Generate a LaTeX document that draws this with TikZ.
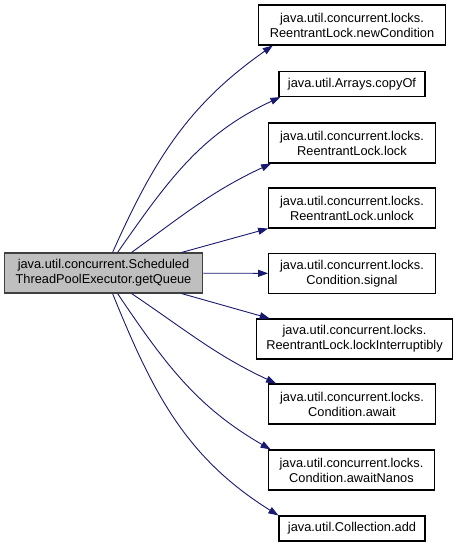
\documentclass[tikz,border=0pt]{standalone}
\usepackage{fontspec}
\setmainfont{Liberation Sans}
\usetikzlibrary{arrows.meta}
\definecolor{edgeblue}{RGB}{25,25,112}
\definecolor{mainfill}{RGB}{191,191,191}

\begin{document}
\begin{tikzpicture}[x=1pt,y=1pt,->,>={Stealth[length=10pt,width=7pt,inset=0pt]},
    fn node/.style={rectangle,draw=black,fill=white,line width=1.1pt,align=center,
        font=\fontsize{12.8}{15}\selectfont,inner xsep=11.5pt,inner ysep=3pt,minimum height=40pt},
    one line/.style={minimum height=25pt,inner xsep=9pt},
    call/.style={draw=edgeblue,line width=0.9pt}]

    \useasboundingbox (0,0) rectangle (459,547);

    \node[fn node, fill=mainfill, draw=black!75] (main) at (103.5,274) {java.util.concurrent.Scheduled\\ThreadPoolExecutor.getQueue};

    \node[fn node] (newcond) at (352,522) {java.util.concurrent.locks.\\ReentrantLock.newCondition};
    \node[fn node, one line] (copyof) at (352,463) {java.util.Arrays.copyOf};
    \node[fn node] (lock) at (352,404) {java.util.concurrent.locks.\\ReentrantLock.lock};
    \node[fn node] (unlock) at (352,339) {java.util.concurrent.locks.\\ReentrantLock.unlock};
    \node[fn node] (signal) at (352,273.5) {java.util.concurrent.locks.\\Condition.signal};
    \node[fn node, inner xsep=10pt] (lockint) at (354.5,208) {java.util.concurrent.locks.\\ReentrantLock.lockInterruptibly};
    \node[fn node] (await) at (352,143) {java.util.concurrent.locks.\\Condition.await};
    \node[fn node] (awaitnanos) at (351.5,77) {java.util.concurrent.locks.\\Condition.awaitNanos};
    \node[fn node, one line] (colladd) at (352,18.5) {java.util.Collection.add};

    % calls going up
    \path[every edge/.append style={call}]
        ([xshift=109pt]main.north west) edge[out=66,in=215] ([xshift=15pt]newcond.south west)
        ([xshift=114pt]main.north west) edge[out=55,in=205] ([xshift=2pt]copyof.south west)
        ([xshift=128pt]main.north west) edge[out=36,in=205] ([xshift=3pt]lock.south west)
        ([xshift=178pt]main.north west) edge (unlock.south west)
        (main) edge (signal);

    % calls going down
    \path[every edge/.append style={call}]
        ([xshift=178pt]main.south west) edge ([xshift=14pt]lockint.north west)
        ([xshift=128pt]main.south west) edge[out=-34,in=155] ([xshift=8pt]await.north west)
        ([xshift=114pt]main.south west) edge[out=-56,in=150] ([xshift=3pt]awaitnanos.north west)
        ([xshift=109pt]main.south west) edge[out=-68,in=148] (colladd.north west);
\end{tikzpicture}
\end{document}
